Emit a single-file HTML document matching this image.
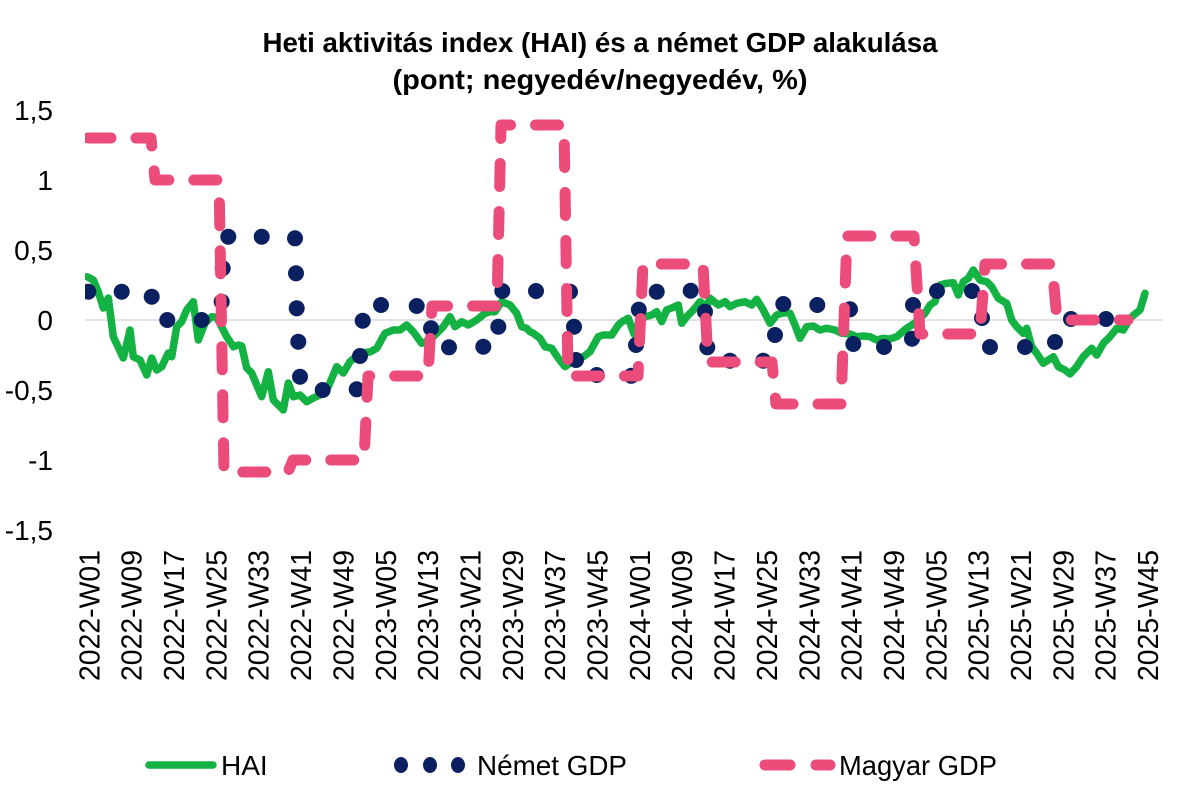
<!DOCTYPE html>
<html>
<head>
<meta charset="utf-8">
<style>
  html,body{margin:0;padding:0;background:#fff;overflow:hidden;}
  svg{display:block;}
  text{font-family:"Liberation Sans",Arial,sans-serif;fill:#000;}
</style>
</head>
<body>
<svg width="1200" height="807" viewBox="0 0 1200 807" xmlns="http://www.w3.org/2000/svg">
  <rect width="1200" height="807" fill="#ffffff"/>

  <!-- Title -->
  <text x="600" y="52" text-anchor="middle" font-size="28" font-weight="bold" textLength="675" lengthAdjust="spacingAndGlyphs">Heti aktivitás index (HAI) és a német GDP alakulása</text>
  <text x="600" y="89" text-anchor="middle" font-size="28" font-weight="bold" textLength="415" lengthAdjust="spacingAndGlyphs">(pont; negyedév/negyedév, %)</text>

  <!-- Y axis labels -->
  <g font-size="28" text-anchor="end">
    <text x="53" y="120">1,5</text>
    <text x="53" y="190">1</text>
    <text x="53" y="260">0,5</text>
    <text x="53" y="330">0</text>
    <text x="53" y="400">-0,5</text>
    <text x="53" y="470">-1</text>
    <text x="53" y="540">-1,5</text>
  </g>

  <!-- zero line -->
  <line x1="85" y1="320" x2="1163" y2="320" stroke="#D9D9D9" stroke-width="1.5"/>

  <defs>
    <clipPath id="plot"><rect x="85" y="90" width="1090" height="460"/></clipPath>
  </defs>

  <g clip-path="url(#plot)">
  <!-- HAI -->
  <polyline fill="none" stroke="#14B143" stroke-width="7.5" stroke-linejoin="round" stroke-linecap="round" points="
87,276.7 93.3,280 98.3,291.7 103.3,308 108.3,298 113.3,336.7 123.3,358 130,330 133.3,356.7 140,360 146.7,375 151.7,358 156.7,370 161.7,366.7 168.3,353 171.7,356.7 176.7,326.7 181.7,321.7 186.7,310 193.3,301.7 198.3,340 205,323 211.7,316.7 216.7,317.3 226.7,336.7 233.3,346.7 238.3,345 241.7,346 246.7,368 251.7,373 261.7,396.7 268.3,371.7 273.3,400 283.3,410 288.3,383 293.3,396.7 300,395 306.7,401.7 313.3,398 320,395 328.3,386.7 336.7,366.7 343.3,373 350,361.7 360,353 370,352 376.7,348.3 385,333.3 393.3,330 400,330 406.7,325 413.3,331.7 421.7,343.3 430,340 438.3,331.7 443.3,326.7 450,316.7 455,326.7 461.7,321.7 468.3,325 476.7,320 485,313.3 490,311.7 495,311.7 501.7,301.7 510,305 516.7,313.3 521.7,326.7 526.7,328.3 530,331.7 533.3,333.3 540,338.3 545,346.7 551.7,348.3 558.3,358.3 565,366.7 570,363.3 576.7,360 583.3,356.7 590,351.7 598.3,336.7 603.3,335 611.7,335 618.3,325 622,321.7 628.3,318.3 634,334 638.3,323.3 645,316.7 651.7,315 656.7,311.7 661.7,321.7 666.7,310 673.3,307.3 678.3,305 681.7,323.3 686.7,316.7 693.3,310 700,301.7 706.7,306.7 710,298.3 718.3,305 725,301.7 730,306.7 736.7,303.3 745,301.7 751.7,305 756.7,299.3 763.3,310 770,323.3 776.7,315 783.3,312.7 790,313.3 795,325 800,338.3 806.7,326.7 813.3,326 820,330 826.7,328.3 835,330 841.7,333.3 850,334 856.7,336.7 863.3,336 870,336.7 876.7,340 883.3,338.3 890,339 896.7,336.7 906.7,328.3 913.3,324 918.3,320 925,313.3 930,305 935,301.7 940,285 946.7,283.3 953.3,282.7 958.3,295 963.3,281.7 968.3,278.3 973.3,270 980,280 986.7,281.7 991.7,286.7 998.3,298.3 1006.7,303.3 1011.7,320 1016.7,326.7 1023.3,333.3 1026.7,328.3 1031.7,346.7 1036.7,353.3 1043.3,363.3 1053.3,356.7 1058.3,366.7 1065,370 1070,374 1076.7,366.7 1083.3,356.7 1091.7,348.3 1096.7,355 1103.3,343.3 1110,336.7 1116.7,328.3 1123.3,330 1130,318.3 1135,314 1140,310 1145,293.3"/>

  <!-- Német GDP dots -->
  <g fill="#0B2060">
    <circle cx="88.3" cy="291.7" r="8"/>
    <circle cx="121.7" cy="291.7" r="8"/>
    <circle cx="151.7" cy="296.7" r="8"/>
    <circle cx="167.3" cy="320" r="8"/>
    <circle cx="201.7" cy="320" r="8"/>
    <circle cx="221.7" cy="301.7" r="8"/>
    <circle cx="222.7" cy="268.3" r="8"/>
    <circle cx="228.3" cy="236.7" r="8"/>
    <circle cx="261.7" cy="236.7" r="8"/>
    <circle cx="295" cy="238.3" r="8"/>
    <circle cx="296" cy="273.3" r="8"/>
    <circle cx="296.7" cy="308.3" r="8"/>
    <circle cx="298.3" cy="341.7" r="8"/>
    <circle cx="300" cy="376.7" r="8"/>
    <circle cx="322.7" cy="390" r="8"/>
    <circle cx="356.7" cy="389.3" r="8"/>
    <circle cx="360" cy="356" r="8"/>
    <circle cx="362.7" cy="320.7" r="8"/>
    <circle cx="381" cy="305" r="8"/>
    <circle cx="416.7" cy="306" r="8"/>
    <circle cx="431" cy="328.3" r="8"/>
    <circle cx="449" cy="347.3" r="8"/>
    <circle cx="483.3" cy="346.7" r="8"/>
    <circle cx="498.3" cy="326.7" r="8"/>
    <circle cx="502.3" cy="291" r="8"/>
    <circle cx="536" cy="291" r="8"/>
    <circle cx="570" cy="291.7" r="8"/>
    <circle cx="574" cy="326.7" r="8"/>
    <circle cx="576" cy="360" r="8"/>
    <circle cx="596.7" cy="375" r="8"/>
    <circle cx="631.3" cy="375.8" r="8"/>
    <circle cx="636" cy="345" r="8"/>
    <circle cx="638.8" cy="309.6" r="8"/>
    <circle cx="656.7" cy="291.7" r="8"/>
    <circle cx="690.7" cy="290.7" r="8"/>
    <circle cx="705" cy="311.7" r="8"/>
    <circle cx="707.3" cy="347.3" r="8"/>
    <circle cx="730" cy="360.7" r="8"/>
    <circle cx="763.3" cy="360.7" r="8"/>
    <circle cx="775" cy="335" r="8"/>
    <circle cx="783.3" cy="304" r="8"/>
    <circle cx="817.3" cy="305" r="8"/>
    <circle cx="850" cy="309.3" r="8"/>
    <circle cx="853.3" cy="344" r="8"/>
    <circle cx="884" cy="347" r="8"/>
    <circle cx="912" cy="338.7" r="8"/>
    <circle cx="913" cy="305" r="8"/>
    <circle cx="937" cy="291" r="8"/>
    <circle cx="972" cy="291" r="8"/>
    <circle cx="982" cy="318" r="8"/>
    <circle cx="990" cy="347" r="8"/>
    <circle cx="1025" cy="347" r="8"/>
    <circle cx="1055" cy="342" r="8"/>
    <circle cx="1071" cy="319" r="8"/>
    <circle cx="1106" cy="319" r="8"/>
  </g>

  <!-- Magyar GDP -->
  <path fill="none" stroke="#EC4C7A" stroke-width="11" stroke-linecap="round" stroke-linejoin="round" stroke-dasharray="23 25"
    d="M 88 138 H 151 L 155 180 H 219 L 224 472 H 288 L 293 460 H 364 L 368 376 H 428 L 432 306 H 497 L 501 125 H 564 L 568 376 H 638 L 643 264 H 703 L 708 362 H 772 L 776 404 H 841 L 847 236 H 914 L 920 334 H 980 L 985 264 H 1052 L 1057 320 H 1128"/>
  </g>

  <!-- X axis labels -->
  <g font-size="29" text-anchor="end">
    <text transform="translate(99.3,550) rotate(-90)" textLength="131" lengthAdjust="spacingAndGlyphs">2022-W01</text>
    <text transform="translate(141.65,550) rotate(-90)" textLength="131" lengthAdjust="spacingAndGlyphs">2022-W09</text>
    <text transform="translate(184,550) rotate(-90)" textLength="131" lengthAdjust="spacingAndGlyphs">2022-W17</text>
    <text transform="translate(226.35,550) rotate(-90)" textLength="131" lengthAdjust="spacingAndGlyphs">2022-W25</text>
    <text transform="translate(268.7,550) rotate(-90)" textLength="131" lengthAdjust="spacingAndGlyphs">2022-W33</text>
    <text transform="translate(311.05,550) rotate(-90)" textLength="131" lengthAdjust="spacingAndGlyphs">2022-W41</text>
    <text transform="translate(353.4,550) rotate(-90)" textLength="131" lengthAdjust="spacingAndGlyphs">2022-W49</text>
    <text transform="translate(395.75,550) rotate(-90)" textLength="131" lengthAdjust="spacingAndGlyphs">2023-W05</text>
    <text transform="translate(438.1,550) rotate(-90)" textLength="131" lengthAdjust="spacingAndGlyphs">2023-W13</text>
    <text transform="translate(480.45,550) rotate(-90)" textLength="131" lengthAdjust="spacingAndGlyphs">2023-W21</text>
    <text transform="translate(522.8,550) rotate(-90)" textLength="131" lengthAdjust="spacingAndGlyphs">2023-W29</text>
    <text transform="translate(565.15,550) rotate(-90)" textLength="131" lengthAdjust="spacingAndGlyphs">2023-W37</text>
    <text transform="translate(607.5,550) rotate(-90)" textLength="131" lengthAdjust="spacingAndGlyphs">2023-W45</text>
    <text transform="translate(649.85,550) rotate(-90)" textLength="131" lengthAdjust="spacingAndGlyphs">2024-W01</text>
    <text transform="translate(692.2,550) rotate(-90)" textLength="131" lengthAdjust="spacingAndGlyphs">2024-W09</text>
    <text transform="translate(734.55,550) rotate(-90)" textLength="131" lengthAdjust="spacingAndGlyphs">2024-W17</text>
    <text transform="translate(776.9,550) rotate(-90)" textLength="131" lengthAdjust="spacingAndGlyphs">2024-W25</text>
    <text transform="translate(819.25,550) rotate(-90)" textLength="131" lengthAdjust="spacingAndGlyphs">2024-W33</text>
    <text transform="translate(861.6,550) rotate(-90)" textLength="131" lengthAdjust="spacingAndGlyphs">2024-W41</text>
    <text transform="translate(903.95,550) rotate(-90)" textLength="131" lengthAdjust="spacingAndGlyphs">2024-W49</text>
    <text transform="translate(946.3,550) rotate(-90)" textLength="131" lengthAdjust="spacingAndGlyphs">2025-W05</text>
    <text transform="translate(988.65,550) rotate(-90)" textLength="131" lengthAdjust="spacingAndGlyphs">2025-W13</text>
    <text transform="translate(1031,550) rotate(-90)" textLength="131" lengthAdjust="spacingAndGlyphs">2025-W21</text>
    <text transform="translate(1073.35,550) rotate(-90)" textLength="131" lengthAdjust="spacingAndGlyphs">2025-W29</text>
    <text transform="translate(1115.7,550) rotate(-90)" textLength="131" lengthAdjust="spacingAndGlyphs">2025-W37</text>
    <text transform="translate(1158.05,550) rotate(-90)" textLength="131" lengthAdjust="spacingAndGlyphs">2025-W45</text>
  </g>

  <!-- Legend -->
  <line x1="149" y1="765" x2="213" y2="765" stroke="#14B143" stroke-width="7.5" stroke-linecap="round"/>
  <text x="221" y="775" font-size="28">HAI</text>

  <g fill="#0B2060">
    <ellipse cx="401" cy="765" rx="7" ry="8"/>
    <ellipse cx="430" cy="765" rx="7" ry="8"/>
    <ellipse cx="458" cy="765" rx="7" ry="8"/>
  </g>
  <text x="477" y="775" font-size="28" textLength="150" lengthAdjust="spacingAndGlyphs">Német GDP</text>

  <g stroke="#EC4C7A" stroke-width="11" stroke-linecap="round">
    <line x1="765" y1="765" x2="790" y2="765"/>
    <line x1="816" y1="765" x2="830" y2="765"/>
  </g>
  <text x="839" y="775" font-size="28" textLength="158" lengthAdjust="spacingAndGlyphs">Magyar GDP</text>
</svg>
</body>
</html>
